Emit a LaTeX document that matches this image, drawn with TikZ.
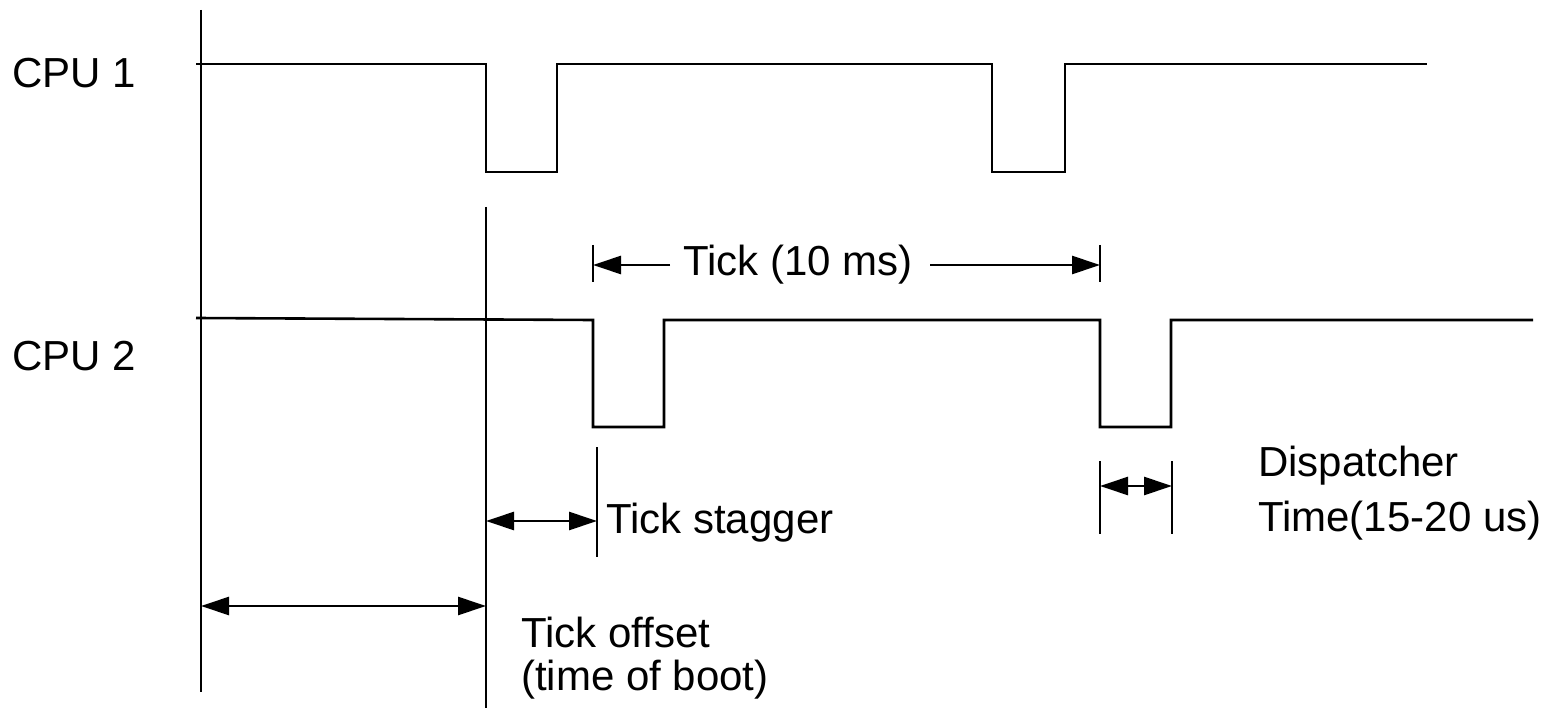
\documentclass[tikz,border=0pt]{standalone}
\usepackage{fontspec}
\setmainfont{Liberation Sans}
\usetikzlibrary{arrows.meta}
\begin{document}
\begin{tikzpicture}[x=1pt,y=-1pt,
  wire/.style={line width=2.6pt},
  tip/.style={},
  dim/.style={line width=2.6pt,-{Triangle[length=28pt,width=18pt]}},
  dimboth/.style={line width=2.6pt,{Triangle[length=28pt,width=18pt]}-{Triangle[length=28pt,width=18pt]}},
  lbl/.style={font=\fontsize{42}{50}\selectfont,inner sep=0pt}]
\useasboundingbox (0,0) rectangle (1552,711);
% vertical reference lines
\draw[wire] (201,10) -- (201,692);
\draw[wire] (486,207) -- (486,708);
% CPU 1 waveform
\draw[wire] (196,64) -- (486,64) -- (486,172) -- (557,172) -- (557,64) -- (992,64) -- (992,172) -- (1065,172) -- (1065,64) -- (1427,64);
% CPU 2 waveform
\draw[wire] (196,318) -- (593,320) -- (593,427) -- (664,427) -- (664,320) -- (1100,320) -- (1100,427) -- (1171,427) -- (1171,320) -- (1533,320);
% labels
\node[lbl,anchor=west] (cpu1) at (12,73) {CPU 1};
\node[lbl,anchor=west] (cpu2) at (12,356) {CPU 2};
% Tick (10 ms)
\draw[wire] (593,245) -- (593,282);
\draw[wire] (1100,245) -- (1100,282);
\coordinate (tl) at (593,265);
\coordinate (tr) at (1100,265);
\node[lbl,anchor=west] (tick) at (683,265) {Tick (10 ms)};
\draw[dim] (670,265) -- (tl);
\draw[dim] (930,265) -- (tr);
% Tick stagger
\draw[wire] (597,447) -- (597,557);
\coordinate (sl) at (486,521);
\coordinate (sr) at (597,521);
\draw[dimboth] (sl) -- (sr);
\node[lbl,anchor=west] (stagger) at (606,523) {Tick stagger};
% Dispatcher
\draw[wire] (1100,461) -- (1100,534);
\draw[wire] (1172,461) -- (1172,534);
\coordinate (dl) at (1100,486);
\coordinate (dr) at (1172,486);
\draw[dimboth] (dl) -- (dr);
\node[lbl,anchor=west] (disp1) at (1258,466) {Dispatcher};
\node[lbl,anchor=west] (disp2) at (1258,521) {Time(15-20 us)};
% Tick offset
\coordinate (ol) at (201,606);
\coordinate (or) at (486,606);
\draw[dimboth] (ol) -- (or);
\node[lbl,anchor=west] (off1) at (521,632) {Tick offset};
\node[lbl,anchor=west] (off2) at (521,680) {(time of boot)};
\end{tikzpicture}
\end{document}
